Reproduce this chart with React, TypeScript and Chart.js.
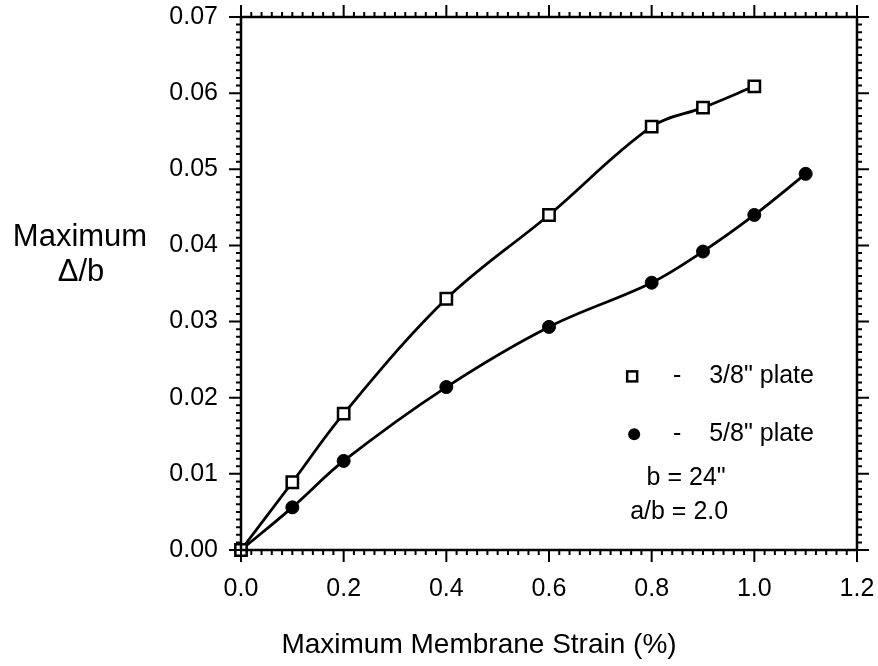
import React, { useEffect, useRef } from "react";
import { Chart, registerables } from "chart.js";
Chart.register(...registerables);

const strain38 = [0, 0.1, 0.2, 0.4, 0.6, 0.8, 0.9, 1.0];
const defl38 = [0, 0.0089, 0.0179, 0.033, 0.044, 0.0556, 0.0581, 0.0609];
const strain58 = [0, 0.1, 0.2, 0.4, 0.6, 0.8, 0.9, 1.0, 1.1];
const defl58 = [0, 0.0056, 0.0117, 0.0214, 0.0293, 0.0351, 0.0392, 0.044, 0.0494];
const xTickLabels = ["0.0", "0.2", "0.4", "0.6", "0.8", "1.0", "1.2"];
const yTickLabels = ["0.00", "0.01", "0.02", "0.03", "0.04", "0.05", "0.06", "0.07"];
const legendLabels = ['3/8" plate', '5/8" plate'];
const noteLines = ['b = 24"', "a/b = 2.0"];
const xTitle = "Maximum Membrane Strain (%)";
const yTitleLines = ["Maximum", "\u0394/b"];

const FONT = '"Liberation Sans", Arial, Helvetica, sans-serif';

const framePlugin = {
  id: "frameTicks",
  afterDraw(chart: any) {
    const ctx = chart.ctx;
    const { left, right, top, bottom } = chart.chartArea;
    const xs = chart.scales.x;
    const ys = chart.scales.y;
    ctx.save();
    ctx.strokeStyle = "#000";
    ctx.lineWidth = 2.5;
    ctx.strokeRect(left, top, right - left, bottom - top);
    ctx.lineWidth = 2;
    ctx.beginPath();
    for (let i = 0; i <= 60; i++) {
      const px = xs.getPixelForValue(i * 0.02);
      const len = i % 10 === 0 ? 12 : 5;
      ctx.moveTo(px, bottom);
      ctx.lineTo(px, bottom + len);
      ctx.moveTo(px, top);
      ctx.lineTo(px, top - len);
    }
    for (let i = 0; i <= 70; i++) {
      const py = ys.getPixelForValue(i * 0.001);
      const len = i % 10 === 0 ? 12 : 5;
      ctx.moveTo(left, py);
      ctx.lineTo(left - len, py);
      ctx.moveTo(right, py);
      ctx.lineTo(right + len, py);
    }
    ctx.stroke();

    // legend
    const lx = xs.getPixelForValue(0.762);
    const ly1 = ys.getPixelForValue(0.0228);
    const ly2 = ys.getPixelForValue(0.0152);
    ctx.lineWidth = 2.5;
    ctx.fillStyle = "#fff";
    ctx.fillRect(lx - 5, ly1 - 5, 10, 10);
    ctx.strokeRect(lx - 5, ly1 - 5, 10, 10);
    ctx.fillStyle = "#000";
    ctx.beginPath();
    ctx.arc(lx + 2, ly2, 6, 0, Math.PI * 2);
    ctx.fill();
    ctx.font = `25px ${FONT}`;
    ctx.textBaseline = "middle";
    ctx.textAlign = "center";
    ctx.fillText("-", lx + 45, ly1);
    ctx.fillText("-", lx + 45, ly2);
    ctx.textAlign = "left";
    ctx.fillText(legendLabels[0], lx + 77, ly1);
    ctx.fillText(legendLabels[1], lx + 77, ly2);
    ctx.textAlign = "center";
    ctx.fillText(noteLines[0], lx + 54, ys.getPixelForValue(0.0095));
    ctx.fillText(noteLines[1], lx + 47, ys.getPixelForValue(0.005));

    // y title
    ctx.font = `31px ${FONT}`;
    ctx.fillText(yTitleLines[0], 80, ys.getPixelForValue(0.0411));
    ctx.fillText(yTitleLines[1], 81, ys.getPixelForValue(0.0365));
    // x title
    ctx.font = `28px ${FONT}`;
    ctx.fillText(xTitle, (left + right) / 2 - 70, 645);
    ctx.restore();
  },
};

export default function App() {
  const ref = useRef<HTMLCanvasElement>(null);
  useEffect(() => {
    const canvas = ref.current!;
    const chart = new Chart(canvas, {
      type: "line",
      data: {
        datasets: [
          {
            label: legendLabels[0],
            data: strain38.map((x, i) => ({ x, y: defl38[i] })),
            borderColor: "#000",
            borderWidth: 2.8,
            backgroundColor: "#fff",
            pointStyle: "rect",
            pointRadius: 8,
            pointBorderWidth: 2.5,
            pointBorderColor: "#000",
            pointBackgroundColor: "#fff",
            tension: 0.35,
            clip: 10,
          },
          {
            label: legendLabels[1],
            data: strain58.map((x, i) => ({ x, y: defl58[i] })),
            borderColor: "#000",
            borderWidth: 2.8,
            backgroundColor: "#000",
            pointStyle: "circle",
            pointRadius: 6.5,
            pointBorderWidth: 1,
            pointBorderColor: "#000",
            pointBackgroundColor: "#000",
            tension: 0.35,
            clip: 10,
          },
        ],
      },
      options: {
        animation: false,
        responsive: false,
        maintainAspectRatio: false,
        layout: { autoPadding: false, padding: { left: 0, right: 21, top: 17, bottom: 0 } },
        plugins: { legend: { display: false }, tooltip: { enabled: false } },
        scales: {
          x: {
            type: "linear",
            min: 0,
            max: 1.2,
            grid: { display: false, drawTicks: false },
            border: { display: false },
            ticks: {
              stepSize: 0.2,
              padding: 24,
              color: "#000",
              font: { family: FONT, size: 25 },
              callback: (_v: any, i: number) => xTickLabels[i],
            },
            afterFit: (s: any) => {
              s.height = 116;
              s.paddingLeft = 0;
              s.paddingRight = 0;
            },
          },
          y: {
            type: "linear",
            min: 0,
            max: 0.07,
            grid: { display: false, drawTicks: false },
            border: { display: false },
            ticks: {
              stepSize: 0.01,
              padding: 23,
              color: "#000",
              font: { family: FONT, size: 25 },
              callback: (_v: any, i: number) => yTickLabels[i],
            },
            afterFit: (s: any) => {
              s.width = 241;
              s.paddingTop = 0;
              s.paddingBottom = 0;
            },
          },
        },
      },
      plugins: [framePlugin],
    });
    return () => chart.destroy();
  }, []);
  return (
    <div style={{ position: "absolute", left: 0, top: 0, width: 878, height: 666, background: "#fff" }}>
      <canvas ref={ref} width={878} height={666} style={{ width: 878, height: 666 }} />
    </div>
  );
}
